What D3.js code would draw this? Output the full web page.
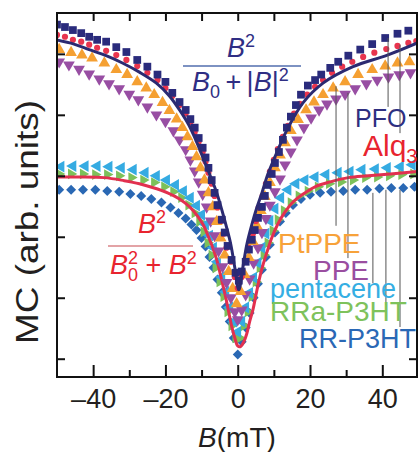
<!DOCTYPE html>
<html>
<head>
<meta charset="utf-8">
<script src="https://cdn.jsdelivr.net/npm/d3@7"></script>
<style>
  body { margin: 0; background: #fff; }
  svg { display: block; font-family: "Liberation Sans", Arial, sans-serif; }
</style>
</head>
<body>
<svg id="chart" width="419" height="452"></svg>
<script>
// B in mT, MC in arb. units (one unit per y tick)

var pfoB  = [-50.0,-47.8,-45.6,-43.3,-41.1,-38.9,-36.4,-33.6,-30.8,-27.8,-25.0,-22.2,-20.0,-18.1,-16.1,-14.4,-13.1,-11.9,-10.8,-9.7,-8.9,-8.1,-7.2,-6.4,-5.6,-4.4,-3.6,-2.8,-1.7,-0.6,0.3,
             1.1,2.2,3.1,3.9,4.7,5.6,6.7,7.5,8.3,9.4,10.3,11.4,12.5,13.6,14.7,16.1,17.5,19.4,21.4,23.1,25.6,27.8,30.6,33.9,37.2,40.8,44.2,47.2];
var pfoMC = [5.48,5.44,5.39,5.34,5.28,5.23,5.20,5.11,5.03,4.90,4.79,4.66,4.54,4.36,4.21,4.08,3.93,3.79,3.62,3.46,3.30,3.13,2.93,2.72,2.52,2.28,2.07,1.85,1.62,1.41,1.28,
             1.43,1.59,1.79,1.95,2.11,2.31,2.49,2.67,2.85,3.03,3.21,3.39,3.59,3.79,3.97,4.16,4.33,4.48,4.57,4.66,4.77,4.87,4.97,5.07,5.16,5.26,5.33,5.38];

var alqB  = [-50.0,-47.8,-45.6,-43.3,-41.1,-38.9,-36.4,-33.6,-30.8,-27.8,-25.0,-22.2,-20.0,-18.1,-16.1,-14.4,-13.1,-11.9,-10.8,-9.7,-8.9,-8.1,-7.2,-6.4,-5.6,-4.7,-3.9,-3.1,-1.9,-0.8,0.0,
             1.1,2.2,3.1,4.2,5.0,5.8,6.9,7.8,8.9,10.0,11.1,12.5,13.9,15.6,17.2,19.2,21.4,23.6,26.1,28.9,31.7,34.7,37.8,41.1,44.2,47.2,49.4];
var alqMC = [5.31,5.28,5.23,5.20,5.15,5.10,5.05,4.98,4.90,4.80,4.69,4.57,4.44,4.31,4.16,4.02,3.87,3.72,3.56,3.39,3.23,3.05,2.87,2.67,2.48,2.26,2.05,1.82,1.59,1.34,1.16,
             1.34,1.59,1.82,2.05,2.26,2.48,2.67,2.87,3.07,3.26,3.44,3.64,3.82,4.02,4.18,4.33,4.46,4.57,4.69,4.79,4.87,4.95,5.02,5.08,5.13,5.18,5.21];

var ptppeB  = [-49.4,-46.1,-43.1,-40.3,-36.9,-33.6,-30.6,-27.8,-25.3,-23.1,-20.8,-18.9,-16.9,-15.3,-13.9,-12.5,-11.4,-10.3,-9.2,-8.1,-6.9,-5.8,-4.7,-3.6,-2.5,-1.4,-0.3,
               0.8,1.9,3.1,4.2,5.3,6.4,7.5,8.9,10.3,11.7,13.1,14.7,16.7,18.9,21.1,23.6,26.4,29.7,33.3,37.2,40.8,44.2,47.5];
var ptppeMC = [5.07,5.02,4.98,4.93,4.85,4.74,4.66,4.54,4.44,4.33,4.20,4.07,3.93,3.79,3.64,3.48,3.31,3.13,2.93,2.72,2.49,2.25,1.98,1.70,1.43,1.15,0.90,
               1.10,1.38,1.66,1.92,2.18,2.43,2.66,2.89,3.13,3.34,3.54,3.74,3.92,4.08,4.21,4.33,4.44,4.54,4.66,4.74,4.80,4.85,4.87];

var ppeB  = [-49.4,-46.7,-43.9,-41.1,-38.3,-35.6,-32.8,-30.0,-27.5,-25.0,-22.5,-20.0,-17.8,-16.1,-14.4,-13.1,-11.9,-10.8,-9.7,-8.6,-7.5,-6.4,-5.3,-4.2,-3.1,-1.9,-0.8,0.0,
             1.1,2.2,3.3,4.4,5.6,6.7,7.8,8.9,10.3,11.7,13.1,14.7,16.4,18.3,20.3,22.5,24.7,27.2,29.7,32.5,35.6,38.6,41.7,44.7,47.8];
var ppeMC = [4.87,4.82,4.75,4.67,4.59,4.51,4.43,4.34,4.25,4.13,4.00,3.89,3.74,3.59,3.43,3.26,3.08,2.90,2.70,2.49,2.26,2.02,1.77,1.51,1.25,1.00,0.77,0.64,
             0.80,1.05,1.31,1.57,1.82,2.07,2.30,2.52,2.74,2.95,3.18,3.39,3.59,3.79,3.95,4.08,4.18,4.26,4.34,4.43,4.51,4.57,4.62,4.66,4.69];

var pentB  = [-48.9,-45.6,-42.2,-38.9,-35.6,-32.2,-28.9,-25.6,-22.5,-19.7,-17.2,-15.0,-13.1,-11.4,-10.0,-8.9,-7.8,-6.7,-5.6,-4.4,-3.3,-2.2,-1.1,0.0,
              1.1,2.2,3.3,4.4,5.6,6.7,7.8,8.9,10.3,11.9,13.9,16.1,18.6,21.4,24.4,27.8,31.1,34.4,38.1,41.4,45.0,48.3];
var pentMC = [3.15,3.16,3.16,3.16,3.15,3.13,3.10,3.05,3.00,2.93,2.85,2.75,2.64,2.51,2.36,2.20,2.02,1.82,1.59,1.34,1.10,0.84,0.61,0.44,
              0.61,0.84,1.08,1.33,1.57,1.82,2.05,2.26,2.46,2.64,2.77,2.87,2.93,2.98,3.02,3.05,3.07,3.10,3.11,3.13,3.15,3.18];

var rraB  = [-49.4,-46.1,-42.8,-39.4,-36.1,-32.8,-29.4,-26.1,-23.1,-20.3,-17.8,-15.6,-13.6,-11.9,-10.6,-9.4,-8.3,-7.2,-6.1,-5.0,-3.9,-2.8,-1.7,-0.6,
             0.6,1.7,2.8,3.9,5.0,6.1,7.2,8.3,9.7,11.1,12.8,14.7,16.9,19.4,22.2,25.3,28.6,31.9,35.3,38.6,41.9,45.3,48.6];
var rraMC = [3.03,3.03,3.03,3.02,3.02,3.00,2.97,2.93,2.89,2.82,2.74,2.64,2.52,2.39,2.25,2.08,1.90,1.70,1.49,1.26,1.02,0.77,0.54,0.34,
             0.34,0.54,0.77,1.02,1.26,1.49,1.70,1.90,2.10,2.28,2.43,2.56,2.67,2.75,2.82,2.87,2.90,2.93,2.97,2.98,3.00,3.02,3.03];

var rrB  = [-49.4,-46.1,-42.8,-39.4,-36.1,-32.8,-29.7,-26.7,-23.9,-21.1,-18.6,-16.4,-14.4,-12.8,-11.4,-10.0,-8.9,-7.8,-6.7,-5.6,-4.4,-3.3,-2.2,-1.1,0.0,
            1.1,2.2,3.3,4.4,5.6,6.7,7.8,8.9,10.3,11.7,13.3,15.3,17.5,20.0,22.8,25.8,29.2,32.5,35.8,39.2,42.5,45.8,48.9];
var rrMC = [2.77,2.77,2.77,2.77,2.75,2.74,2.70,2.67,2.62,2.56,2.48,2.39,2.30,2.20,2.11,1.98,1.84,1.67,1.49,1.30,1.08,0.85,0.61,0.34,0.07,
            0.28,0.51,0.75,1.00,1.23,1.46,1.67,1.87,2.07,2.25,2.39,2.52,2.62,2.69,2.72,2.74,2.75,2.77,2.77,2.79,2.80,2.80,2.82];

// fitted curves as drawn in the figure
var fitNavyB  = [-50.3,-45.3,-41.1,-36.4,-31.9,-27.2,-22.5,-18.9,-16.1,-13.6,-11.4,-9.7,-7.8,-5.8,-4.4,-3.1,-1.9,-0.8,0.3,
                 1.4,2.5,3.9,5.3,6.7,8.3,10.3,13.6,18.1,23.6,31.9,41.4,49.7];
var fitNavyMC = [5.23,5.16,5.07,4.97,4.85,4.70,4.52,4.31,4.08,3.84,3.56,3.31,3.03,2.72,2.44,2.16,1.87,1.49,1.13,
                 1.49,1.87,2.20,2.48,2.72,3.02,3.31,3.75,4.20,4.52,4.79,4.98,5.18];

var fitRedB  = [-50.3,-43.9,-36.9,-31.4,-27.2,-23.1,-19.4,-16.1,-13.3,-11.1,-9.4,-8.1,-6.9,-5.8,-5.0,-4.2,-3.3,-2.5,-1.7,-0.8,0.0,0.8,
                1.7,2.5,3.3,4.2,5.0,5.8,6.9,8.1,9.4,11.1,13.1,15.3,18.1,21.4,25.6,30.6,36.1,42.2,49.7];
var fitRedMC = [2.98,2.98,2.97,2.92,2.87,2.80,2.72,2.62,2.49,2.34,2.18,2.00,1.82,1.62,1.43,1.23,1.00,0.77,0.54,0.34,0.21,0.20,
                0.28,0.41,0.61,0.80,1.03,1.26,1.52,1.75,1.98,2.21,2.41,2.57,2.70,2.82,2.90,2.97,3.00,3.03,3.07];

var xTicks = [-40, -20, 0, 20, 40];
var xMinorTicks = [-30, -10, 10, 30];
var yTicks = [0, 1, 2, 3, 4, 5];

// leader lines: B position, MC from, MC to
var leaderB    = [27.2, 30.5, 41.6, 44.9, 37.4, 41.0, 44.9];
var leaderTop  = [4.47, 4.36, 5.26, 5.15, 2.72, 2.77, 2.77];
var leaderBot  = [2.18, 1.65, 4.13, 3.70, 1.24, 0.88, 0.52];

function zip(bs, ms) { return bs.map(function(b, i) { return {b: b, mc: ms[i]}; }); }

var svg = d3.select("#chart");

var x = d3.scaleLinear().domain([-50, 49.6]).range([57, 417]);
var y = d3.scaleLinear().domain([-0.3, 5.67]).range([377, 13]);

svg.append("defs").append("clipPath").attr("id", "plot")
    .append("rect").attr("x", 57).attr("y", 13).attr("width", 360).attr("height", 364);

var plot = svg.append("g").attr("clip-path", "url(#plot)");

function markers(data, type, size, rot, color) {
    plot.append("g").selectAll("path")
        .data(data)
        .enter()
        .append("path")
            .attr("d", d3.symbol().type(type).size(size))
            .attr("transform", function(d) { return "translate(" + x(d.b) + "," + y(d.mc) + ") rotate(" + rot + ")"; })
            .style("fill", color);
}

function fit(data, color) {
    var line = d3.line()
        .x(function(d) { return x(d.b); })
        .y(function(d) { return y(d.mc); })
        .curve(d3.curveCatmullRom);
    plot.append("path")
        .attr("d", line(data))
        .style("fill", "none")
        .style("stroke", color)
        .style("stroke-width", 3);
}

// lower group
markers(zip(rrB, rrMC), d3.symbolSquare, 50, 45, "#2a68b4");
markers(zip(rraB, rraMC), d3.symbolTriangle, 50, 90, "#7cc15a");
markers(zip(pentB, pentMC), d3.symbolTriangle, 60, -90, "#35abe2");
fit(zip(fitRedB, fitRedMC), "#e2304f");

// upper group
markers(zip(ppeB, ppeMC), d3.symbolTriangle, 60, 180, "#984ea3");
markers(zip(ptppeB, ptppeMC), d3.symbolTriangle, 60, 0, "#f5a032");
markers(zip(alqB, alqMC), d3.symbolCircle, 30, 0, "#e8344e");
markers(zip(pfoB, pfoMC), d3.symbolSquare, 60, 0, "#2a2b7c");
fit(zip(fitNavyB, fitNavyMC), "#2b2a72");

// leader lines
svg.append("g").selectAll("line")
    .data(leaderB)
    .enter()
    .append("line")
        .attr("x1", function(d) { return x(d); })
        .attr("x2", function(d) { return x(d); })
        .attr("y1", function(d, i) { return y(leaderTop[i]); })
        .attr("y2", function(d, i) { return y(leaderBot[i]); })
        .style("stroke", "#555")
        .style("stroke-width", 1);

// axes
var enDash = function(d) { return d < 0 ? "\u2013" + Math.abs(d) : d; };

svg.append("g").attr("transform", "translate(0,377)")
    .call(d3.axisBottom(x).tickValues(xTicks).tickSize(-12).tickPadding(12).tickFormat(enDash));
svg.append("g").attr("transform", "translate(0,377)")
    .call(d3.axisBottom(x).tickValues(xMinorTicks).tickSize(-7).tickFormat(""));
svg.append("g").attr("transform", "translate(0,13)")
    .call(d3.axisTop(x).tickValues(xTicks.concat(xMinorTicks)).tickSize(-8).tickFormat(""));
svg.append("g").attr("transform", "translate(57,0)")
    .call(d3.axisLeft(y).tickValues(yTicks).tickSize(-8).tickFormat(""));
svg.append("g").attr("transform", "translate(417,0)")
    .call(d3.axisRight(y).tickValues(yTicks).tickSize(-8).tickFormat(""));

svg.selectAll(".domain").remove();
svg.selectAll(".tick line").style("stroke", "#111").style("stroke-width", 2);
svg.selectAll(".tick text")
    .style("font-family", "'Liberation Sans', Arial, sans-serif")
    .style("font-size", "27px")
    .style("fill", "#231f20");

svg.append("rect")
    .attr("x", 57).attr("y", 13).attr("width", 360).attr("height", 364)
    .style("fill", "none").style("stroke", "#111").style("stroke-width", 2);

// axis titles
var xt = svg.append("text").attr("x", 237).attr("y", 447)
    .attr("text-anchor", "middle").style("font-size", "28px").style("fill", "#231f20");
xt.append("tspan").style("font-style", "italic").text("B");
xt.append("tspan").text("(mT)");

svg.append("text")
    .attr("transform", "translate(38,222) rotate(-90)")
    .attr("text-anchor", "middle")
    .attr("textLength", 244)
    .attr("lengthAdjust", "spacingAndGlyphs")
    .style("font-size", "31px").style("fill", "#231f20")
    .text("MC (arb. units)");

// series labels
function label(txt, px, py, color, size) {
    return svg.append("text").attr("x", px).attr("y", py)
        .style("font-size", size + "px").style("fill", color).text(txt);
}
label("PFO", 355, 127, "#2e2f80", 25);
var alq = label("Alq", 363, 156, "#e8242f", 30);
alq.append("tspan").attr("dy", 7).style("font-size", "20px").text("3");
label("PtPPE", 278, 253, "#f7a23a", 28);
label("PPE", 313, 280, "#9a4ea0", 28);
label("pentacene", 270, 298, "#35aee3", 27);
label("RRa-P3HT", 270, 321, "#7ec25c", 28);
label("RR-P3HT", 299, 348, "#2a68b5", 27);

// formulas
var navyF = "#2f2e84";
var n1 = svg.append("text").attr("x", 227).attr("y", 57).style("font-size", "27px").style("fill", navyF);
n1.append("tspan").style("font-style", "italic").text("B");
n1.append("tspan").attr("dy", -10).style("font-size", "18px").text("2");
svg.append("line").attr("x1", 183).attr("x2", 301).attr("y1", 66).attr("y2", 66)
    .style("stroke", "#7d92c2").style("stroke-width", 2);
var d1 = svg.append("text").attr("x", 192).attr("y", 91).style("font-size", "27px").style("fill", navyF);
d1.append("tspan").style("font-style", "italic").text("B");
d1.append("tspan").attr("dy", 7).style("font-size", "18px").text("0");
d1.append("tspan").attr("dy", -7).text("\u2009+\u2009|");
d1.append("tspan").style("font-style", "italic").text("B");
d1.append("tspan").text("|");
d1.append("tspan").attr("dy", -10).style("font-size", "18px").text("2");

var redF = "#e8242f";
var n2 = svg.append("text").attr("x", 138).attr("y", 233).style("font-size", "27px").style("fill", redF);
n2.append("tspan").style("font-style", "italic").text("B");
n2.append("tspan").attr("dy", -10).style("font-size", "18px").text("2");
svg.append("line").attr("x1", 108).attr("x2", 193).attr("y1", 246).attr("y2", 246)
    .style("stroke", "#e3a3a6").style("stroke-width", 2);
var d2 = svg.append("text").attr("x", 110).attr("y", 274).style("font-size", "27px").style("fill", redF);
d2.append("tspan").style("font-style", "italic").text("B");
d2.append("tspan").attr("dy", -10).style("font-size", "18px").text("2");
d2.append("tspan").attr("dx", -10).attr("dy", 17).style("font-size", "18px").text("0");
d2.append("tspan").attr("dy", -7).text(" + ");
d2.append("tspan").style("font-style", "italic").text("B");
d2.append("tspan").attr("dy", -10).style("font-size", "18px").text("2");
</script>
</body>
</html>
